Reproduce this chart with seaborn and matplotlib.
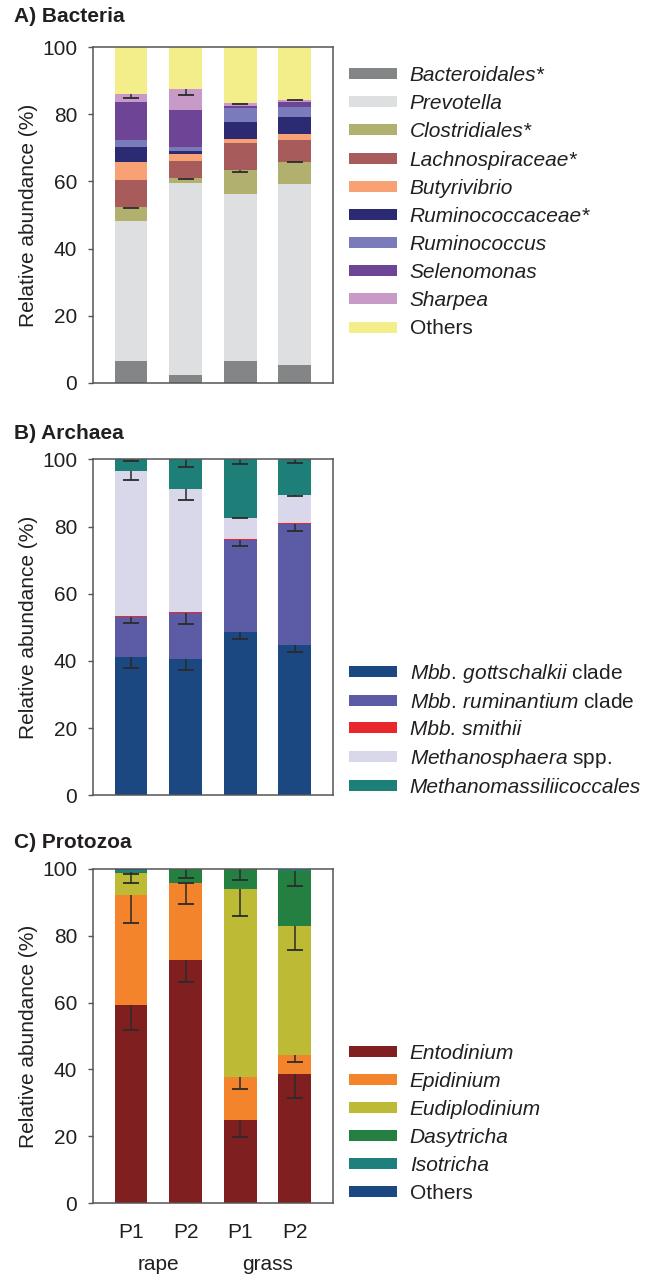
import numpy as np
import pandas as pd
import seaborn as sns
import matplotlib.pyplot as plt
from matplotlib.patches import Patch

# probe: rape / grass, perioada P1 / P2
samples = ['rape P1', 'rape P2', 'grass P1', 'grass P2']
sample_ticks = ['P1', 'P2', 'P1', 'P2']
diets = ['rape', 'grass']

# A) Bacteria - abundenta relativa (%) pe strat
bacteroidales = [6.6, 2.2, 6.4, 5.2]
prevotella = [41.5, 57.2, 50.0, 54.1]
clostridiales = [4.4, 1.5, 7.0, 6.6]
lachnospiraceae = [7.9, 5.2, 8.1, 6.5]
butyrivibrio = [5.5, 2.1, 1.3, 1.7]
ruminococcaceae = [4.5, 1.0, 5.0, 5.1]
ruminococcus = [2.0, 1.1, 4.2, 2.9]
selenomonas = [11.3, 11.0, 0.6, 1.7]
sharpea = [2.3, 6.2, 0.7, 0.6]
bact_others = [14.0, 12.5, 16.7, 15.6]
clostridiales_err = [0.5, 0.3, 0.6, 0.2]
sharpea_err = [1.1, 1.7, 0.3, 0.2]

# B) Archaea
gottschalkii = [41.3, 40.7, 48.5, 44.8]
ruminantium = [11.9, 13.5, 27.5, 35.8]
smithii = [0.3, 0.3, 0.3, 0.3]
methanosphaera = [43.1, 36.6, 6.3, 8.6]
methanomassilii = [3.4, 8.9, 17.4, 10.5]
gottschalkii_err = [3.5, 3.5, 2.1, 2.2]
ruminantium_err = [2.0, 3.3, 1.9, 1.9]
methanosphaera_err = [2.8, 3.2, 0.2, 0.4]
methanomassilii_err = [0.6, 2.3, 1.4, 1.0]

# C) Protozoa
entodinium = [59.3, 72.7, 24.8, 38.6]
epidinium = [32.8, 23.0, 12.9, 5.6]
eudiplodinium = [6.5, 0.1, 56.2, 38.8]
dasytricha = [0.3, 4.0, 6.1, 16.3]
isotricha = [0.7, 0.1, 0.0, 0.5]
proto_others = [0.4, 0.1, 0.0, 0.2]
entodinium_err = [7.6, 6.6, 5.1, 7.0]
epidinium_err = [8.2, 6.3, 3.6, 2.1]
eudiplodinium_err = [3.0, 0.0, 8.1, 7.3]
dasytricha_err = [0.5, 2.5, 3.5, 4.5]

sns.set_style('ticks')
plt.rcParams['font.family'] = ['Liberation Sans', 'DejaVu Sans']
plt.rcParams['mathtext.fontset'] = 'custom'
plt.rcParams['mathtext.it'] = 'Liberation Sans:italic'
plt.rcParams['mathtext.rm'] = 'Liberation Sans'

text_col = '#231f20'
frame_col = '#555555'
FS = 15

W, H = 648, 1274
fig = plt.figure(figsize=(W / 100, H / 100), dpi=100)


def axes_px(top, bottom, left=92.7, right=333.0):
    return fig.add_axes([left / W, 1 - bottom / H, (right - left) / W, (bottom - top) / H])


def panel(ax, layers, colors, errors):
    layers = np.array(layers, dtype=float)
    cum = np.cumsum(layers, axis=0)
    # barele cumulate se deseneaza de sus in jos, fiecare o acopera pe cea anterioara
    for i in range(len(layers) - 1, -1, -1):
        df = pd.DataFrame({'proba': samples, 'valoare': cum[i]})
        sns.barplot(data=df, x='proba', y='valoare', order=samples, color=colors[i],
                    saturation=1, width=0.6, linewidth=0, errorbar=None, ax=ax)
    x = np.arange(len(samples))
    for i, err in errors:
        err = np.array(err)
        ax.errorbar(x, cum[i], yerr=[err, np.zeros_like(err)], fmt='none',
                    ecolor='#2b2b2b', elinewidth=1.1, capsize=0)
        ax.plot(x, cum[i] - err, ls='none', marker='_', ms=11, mew=1.3, color='#2b2b2b')
    ax.set_xlim(-0.7, 3.7)
    ax.set_ylim(0, 100)
    ax.set_yticks(range(0, 101, 20))
    ax.set_xlabel('')
    ax.set_ylabel('Relative abundance (%)', fontsize=FS, color=text_col)
    ax.yaxis.set_label_coords(-0.226, 0.5)
    ax.tick_params(axis='y', direction='out', length=3.8, width=1, pad=7.5,
                   labelsize=FS, color=frame_col, labelcolor=text_col)
    ax.tick_params(axis='x', length=0, pad=14, labelsize=FS, labelcolor=text_col)
    for s in ax.spines.values():
        s.set_color(frame_col)
        s.set_linewidth(1.1)


def legenda(labels, colors, italics, top_px, spacing):
    handles = [Patch(facecolor=c, edgecolor='none') for c in colors]
    leg = fig.legend(handles, labels, loc='upper left',
                     bbox_to_anchor=(349 / W, 1 - top_px / H), bbox_transform=fig.transFigure,
                     frameon=False, fontsize=FS, handlelength=2.3, handleheight=0.43,
                     handletextpad=0.62, labelspacing=spacing, borderpad=0, borderaxespad=0,
                     labelcolor=text_col)
    for t, it in zip(leg.get_texts(), italics):
        if it:
            t.set_style('italic')


# A) Bacteria
axA = axes_px(47.3, 382.7)
colA = ['#848587', '#dedfe0', '#b1b06e', '#a85b5b', '#f7a174',
        '#2d2a74', '#7a7bbb', '#6d4496', '#c79ac8', '#f3ee8a']
panel(axA, [bacteroidales, prevotella, clostridiales, lachnospiraceae, butyrivibrio,
            ruminococcaceae, ruminococcus, selenomonas, sharpea, bact_others], colA,
      [(2, clostridiales_err), (8, sharpea_err)])
axA.tick_params(axis='x', labelbottom=False)
legenda(['Bacteroidales*', 'Prevotella', 'Clostridiales*', 'Lachnospiraceae*', 'Butyrivibrio',
         'Ruminococcaceae*', 'Ruminococcus', 'Selenomonas', 'Sharpea', 'Others'],
        colA, [True] * 9 + [False], 66, 0.44)

# B) Archaea
axB = axes_px(459.3, 795.3)
colB = ['#1b4880', '#5b5ba6', '#e8262c', '#d9d7ea', '#1e7f78']
panel(axB, [gottschalkii, ruminantium, smithii, methanosphaera, methanomassilii], colB,
      [(0, gottschalkii_err), (1, ruminantium_err), (3, methanosphaera_err), (4, methanomassilii_err)])
axB.tick_params(axis='x', labelbottom=False)
legenda([r'$\mathit{Mbb.\,gottschalkii}$ clade', r'$\mathit{Mbb.\,ruminantium}$ clade',
         'Mbb. smithii', r'$\mathit{Methanosphaera}$ spp.', 'Methanomassiliicoccales'],
        colB, [False, False, True, False, True], 662, 0.38)

# C) Protozoa
axC = axes_px(868.7, 1203.3)
colC = ['#7f1f1f', '#f4842c', '#bdbb35', '#238040', '#1e7f7c', '#1b4880']
panel(axC, [entodinium, epidinium, eudiplodinium, dasytricha, isotricha, proto_others], colC,
      [(0, entodinium_err), (1, epidinium_err), (2, eudiplodinium_err), (3, dasytricha_err)])
axC.set_xticks(range(len(samples)))
axC.set_xticklabels(sample_ticks)
for k, d in enumerate(diets):
    axC.text(2 * k + 0.5, -0.182, d, transform=axC.get_xaxis_transform(),
             ha='center', va='center', fontsize=FS, color=text_col)
legenda(['Entodinium', 'Epidinium', 'Eudiplodinium', 'Dasytricha', 'Isotricha', 'Others'],
        colC, [True] * 5 + [False], 1044, 0.43)

# titlurile panourilor
for txt, y in [('A) Bacteria', 16), ('B) Archaea', 433), ('C) Protozoa', 843)]:
    fig.text(14 / W, 1 - y / H, txt, fontsize=FS, fontweight='bold', color=text_col,
             ha='left', va='center')

fig.savefig('out.png', dpi=100)
